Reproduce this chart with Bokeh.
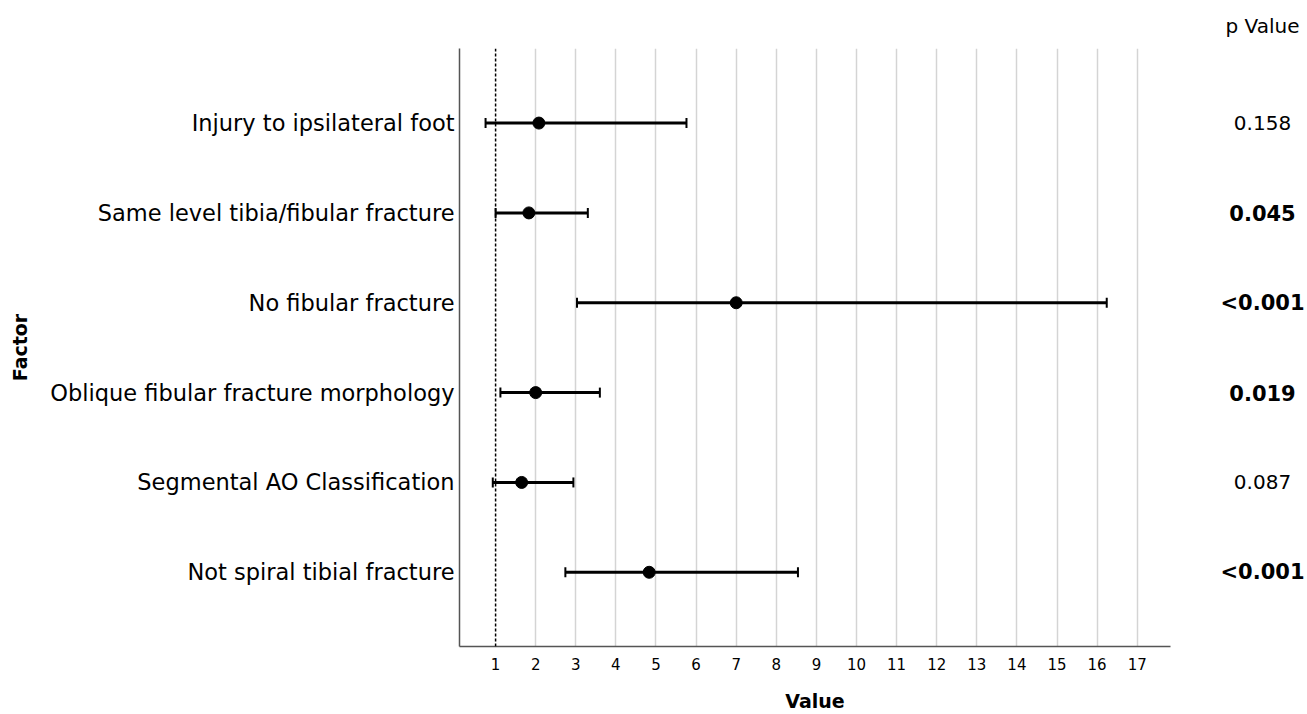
from bokeh.plotting import figure
from bokeh.layouts import row
from bokeh.models import FixedTicker, Span, Whisker, ColumnDataSource, Range1d, TeeHead
from bokeh.core.properties import value
from bokeh.embed import file_html
from bokeh.resources import INLINE

factors = ["Injury to ipsilateral foot",
           "Same level tibia/fibular fracture",
           "No fibular fracture",
           "Oblique fibular fracture morphology",
           "Segmental AO Classification",
           "Not spiral tibial fracture"]
estimates = [2.08, 1.83, 7.0, 2.0, 1.65, 4.83]
lower = [0.75, 1.0, 3.03, 1.12, 0.93, 2.74]
upper = [5.76, 3.30, 16.24, 3.60, 2.94, 8.54]
p_values = ["0.158", "0.045", "<0.001", "0.019", "0.087", "<0.001"]
significant = [False, True, True, True, False, True]
x_ticks = list(range(1, 18))

n = len(factors)
ypos = [n - i for i in range(n)]

FONT = "DejaVu Sans"
H = 714
TOP, BOTTOM = 48, 67
W_MAIN, W_P = 1217, 90

src = ColumnDataSource(dict(y=ypos, est=estimates, lo=lower, hi=upper))
yr = Range1d(0.174, 6.83)

p = figure(width=W_MAIN, height=H, output_backend="svg", toolbar_location=None,
           x_range=Range1d(0.1, 17.83), y_range=yr,
           min_border_left=459, min_border_right=W_MAIN - 1170,
           min_border_top=TOP, min_border_bottom=BOTTOM)
p.outline_line_color = None

# grid
p.ygrid.grid_line_color = None
p.xgrid.ticker = FixedTicker(ticks=x_ticks[1:])
p.xgrid.grid_line_color = "#d4d4d4"
p.xgrid.grid_line_width = 1.5

# axes
p.xaxis.ticker = FixedTicker(ticks=x_ticks)
p.xaxis.axis_label = "Value"
p.yaxis.ticker = FixedTicker(ticks=ypos)
p.yaxis.major_label_overrides = {y: f for y, f in zip(ypos, factors)}
p.yaxis.axis_label = "Factor"
for ax in (p.xaxis[0], p.yaxis[0]):
    ax.major_tick_line_color = None
    ax.minor_tick_line_color = None
    ax.major_tick_out = 0
    ax.major_tick_in = 0
    ax.axis_line_color = "#555555"
    ax.axis_line_width = 1.5
    ax.axis_label_text_font = FONT
    ax.axis_label_text_font_style = "bold"
    ax.axis_label_text_font_size = "19px"
    ax.axis_label_text_color = "black"
    ax.major_label_text_font = FONT
    ax.major_label_text_color = "black"
p.xaxis.major_label_text_font_size = "15px"
p.xaxis.major_label_standoff = 11
p.xaxis.axis_label_standoff = 17
p.yaxis.major_label_text_font_size = "22.5px"
p.yaxis.major_label_standoff = 5
p.yaxis.axis_label_standoff = 16

# reference line at 1
p.add_layout(Span(location=1, dimension="height", line_color="black",
                  line_width=1.5, line_dash="3 2"))

# confidence intervals
w = Whisker(source=src, base="y", lower="lo", upper="hi", dimension="width",
            line_color="black", line_width=3,
            lower_head=TeeHead(size=10, line_width=2, line_color="black"),
            upper_head=TeeHead(size=10, line_width=2, line_color="black"))
p.add_layout(w)
p.scatter(x="est", y="y", source=src, size=12, color="black")

# p-value column (separate panel sharing the vertical range)
q = figure(width=W_P, height=H, output_backend="svg", toolbar_location=None,
           x_range=Range1d(W_MAIN, W_MAIN + W_P), y_range=yr,
           x_axis_location=None, y_axis_location=None,
           min_border_left=0, min_border_right=0,
           min_border_top=TOP, min_border_bottom=BOTTOM,
           title="p Value")
q.outline_line_color = None
q.grid.grid_line_color = None
q.title.align = "center"
q.title.text_font = FONT
q.title.text_font_style = "normal"
q.title.text_font_size = "20px"
q.title.text_color = "black"
q.title.standoff = 21

x_col = W_MAIN + W_P / 2
sig_y = [y for y, s in zip(ypos, significant) if s]
sig_t = [t for t, s in zip(p_values, significant) if s]
ns_y = [y for y, s in zip(ypos, significant) if not s]
ns_t = [t for t, s in zip(p_values, significant) if not s]
q.text(x=[x_col] * len(sig_y), y=sig_y, text=sig_t, text_align="center",
       text_baseline="middle", text_font=value(FONT), text_font_size="21px",
       text_font_style="bold", text_color="black")
q.text(x=[x_col] * len(ns_y), y=ns_y, text=ns_t, text_align="center",
       text_baseline="middle", text_font=value(FONT), text_font_size="20px",
       text_color="black")

layout = row(p, q)
open("out.html", "w").write(file_html(layout, INLINE))
